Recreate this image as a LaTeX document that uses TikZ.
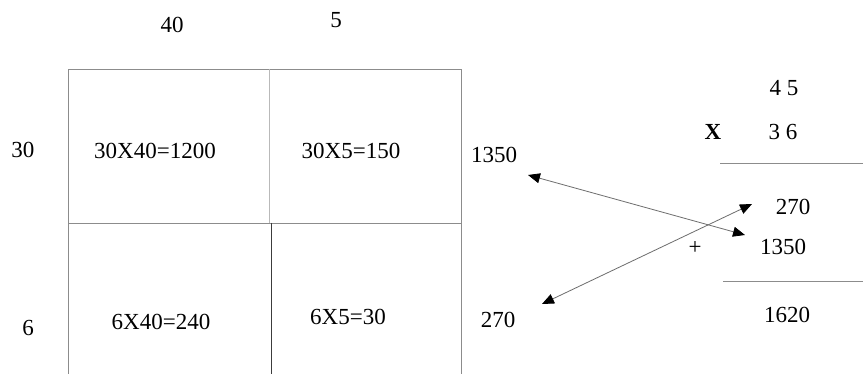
\documentclass[tikz,border=0pt]{standalone}
\usepackage{fontspec}
\setmainfont{Liberation Serif}
\usetikzlibrary{arrows.meta}
\definecolor{gridgray}{RGB}{140,140,140}
\definecolor{lightgray}{RGB}{185,185,185}
\definecolor{darkgray}{RGB}{60,60,60}
\definecolor{arrgray}{RGB}{110,110,110}
\begin{document}
\begin{tikzpicture}[x=1pt,y=-1pt,
  lbl/.style={inner sep=0pt,font=\fontsize{23}{26}\selectfont},
  rule/.style={draw=gridgray,line width=0.9pt},
  dbl/.style={draw=arrgray,line width=0.8pt,
    {Triangle[length=12pt,width=10pt,color=black]}-{Triangle[length=12pt,width=10pt,color=black]}}]
\useasboundingbox (0,0) rectangle (863,374);
\fill[white] (0,0) rectangle (863,374);
% grid
\coordinate (tl) at (68,69);
\coordinate (tr) at (461,69);
\coordinate (ml) at (68,223);
\coordinate (mr) at (461,223);
\coordinate (bl) at (68,374);
\coordinate (br) at (461,374);
\coordinate (dt) at (269,69);
\coordinate (dm) at (269,223);
\coordinate (dm2) at (271,223);
\coordinate (db) at (271,374);
\draw[rule] (bl) -- (tl) -- (tr) -- (br);
\draw[rule] (ml) -- (mr);
\draw[draw=lightgray,line width=0.9pt] (dt) -- (dm);
\draw[draw=darkgray,line width=0.9pt] (dm2) -- (db);
% labels
\node[lbl] (c40) at (172,25) {40};
\node[lbl] (c5) at (336,20) {5};
\node[lbl] (r30) at (23,150) {30};
\node[lbl] (r6) at (28,328) {6};
\node[lbl] (p1) at (155,151) {30X40=1200};
\node[lbl] (p2) at (351,151) {30X5=150};
\node[lbl] (p3) at (161,322) {6X40=240};
\node[lbl] (p4) at (348,317) {6X5=30};
\node[lbl] (s1) at (494,155) {1350};
\node[lbl] (s2) at (498,320) {270};
% column multiplication
\node[lbl] (a) at (784,88) {4 5};
\node[lbl,font=\fontsize{23}{26}\selectfont\bfseries] (x) at (713,132) {X};
\node[lbl] (b) at (783,132) {3 6};
\coordinate (l1a) at (720,163);
\coordinate (l1b) at (863,163);
\draw[rule] (l1a) -- (l1b);
\node[lbl] (q1) at (793,207) {270};
\node[lbl] (q2) at (783,247) {1350};
\node[lbl] (plus) at (695,248) {+};
\coordinate (l2a) at (723,281);
\coordinate (l2b) at (863,281);
\draw[rule] (l2a) -- (l2b);
\node[lbl] (tot) at (787,315) {1620};
% arrows
\coordinate (e1a) at (528,175);
\coordinate (e1b) at (745,235);
\coordinate (e2a) at (542,304);
\coordinate (e2b) at (752,204);
\draw[dbl] (e1a) -- (e1b);
\draw[dbl] (e2a) -- (e2b);
\end{tikzpicture}
\end{document}
